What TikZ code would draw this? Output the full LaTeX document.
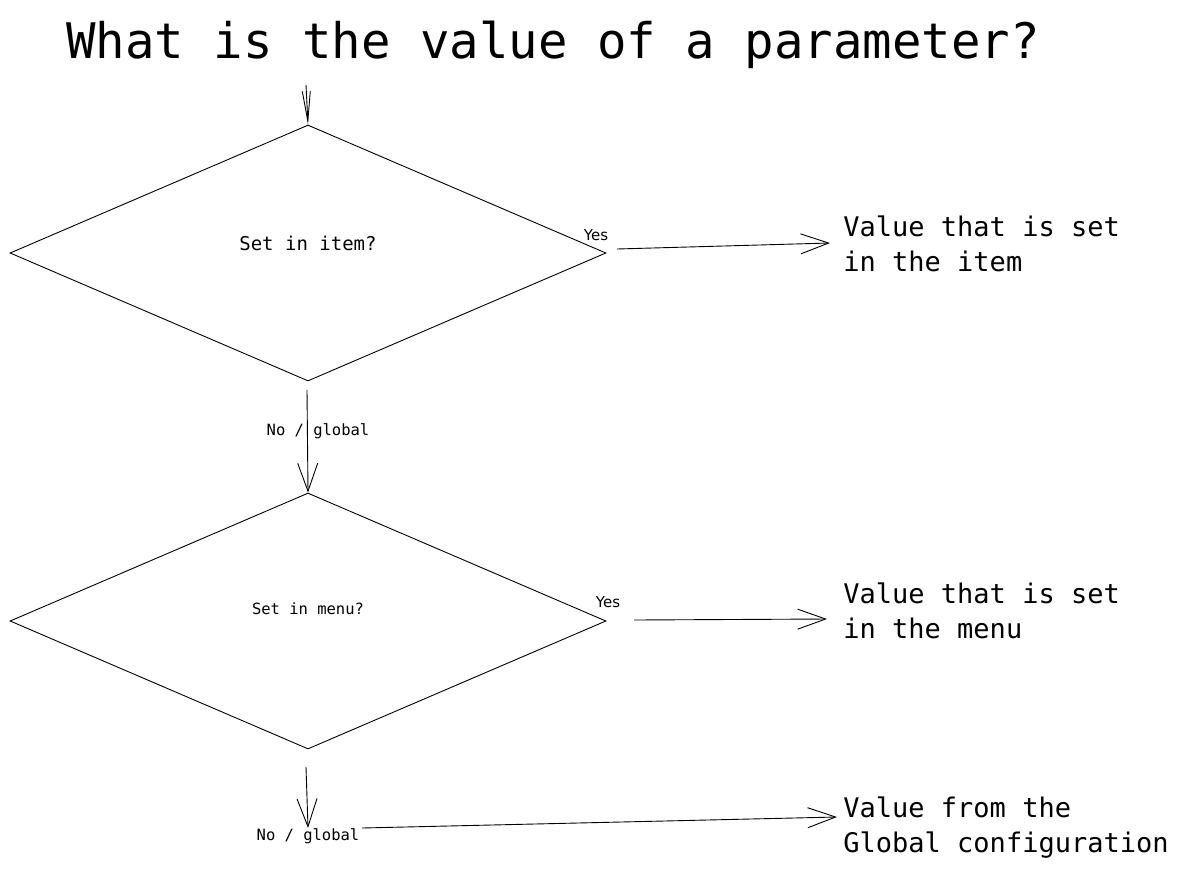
\documentclass[tikz,border=0pt]{standalone}
\usepackage{fontspec}
\setmonofont{DejaVu Sans Mono}
\setsansfont{DejaVu Sans}
\usetikzlibrary{shapes.geometric,arrows.meta}
\begin{document}
\begin{tikzpicture}[x=1pt,y=-1pt,
  line width=0.9pt,
  decision/.style={draw, diamond, inner sep=0pt, minimum width=596pt, minimum height=256pt},
  txt/.style={inner sep=0pt, font=\ttfamily},
  outtxt/.style={inner sep=0pt, font=\ttfamily\fontsize{27}{35}\selectfont, align=left, anchor=north west},
  small/.style={inner sep=0pt, font=\ttfamily\fontsize{15.5}{18}\selectfont},
  yes/.style={inner sep=0pt, font=\sffamily\fontsize{15}{18}\selectfont},
  flow/.style={-{Straight Barb[length=28pt,width=20pt,line width=0.9pt]}},
  narrowflow/.style={-{Straight Barb[length=30pt,width=8pt,line width=0.9pt]}}
]
\useasboundingbox (0,0) rectangle (1180,868);
\node[txt, font=\ttfamily\fontsize{49}{55}\selectfont] (title) at (553,45) {What is the value of a parameter?};

\node[decision] (d1) at (308,253) {};
\node[txt, font=\ttfamily\fontsize{19}{22}\selectfont] (t1) at (308,243) {Set in item?};
\node[decision] (d2) at (308,621) {};
\node[small] (t2) at (308,609) {Set in menu?};

\node[yes] (y1) at (596,235) {Yes};
\node[yes] (y2) at (608,602) {Yes};

\node[outtxt] (o1) at (843,215) {Value that is set\\in the item};
\node[outtxt] (o2) at (843,582) {Value that is set\\in the menu};
\node[outtxt] (o3) at (843,796) {Value from the\\Global configuration};

\node[small] (n1) at (318,431) {No / global};
\node[small] (n2) at (308,836) {No / global};

\coordinate (s0) at (306,85);
\coordinate (s1) at (617,249);
\coordinate (e1) at (830,243);
\coordinate (s2) at (307,390);
\coordinate (s3) at (634,620);
\coordinate (e3) at (827,619);
\coordinate (s4) at (306,767);
\coordinate (e4) at (308,828);
\coordinate (s5) at (362,828);
\coordinate (e5) at (837,817);

\draw[narrowflow] (s0) -- (d1.north);
\draw[flow] (s1) -- (e1);
\draw[flow] (s2) -- (d2.north);
\draw[flow] (s3) -- (e3);
\draw[flow] (s4) -- (e4);
\draw[flow] (s5) -- (e5);
\end{tikzpicture}
\end{document}
